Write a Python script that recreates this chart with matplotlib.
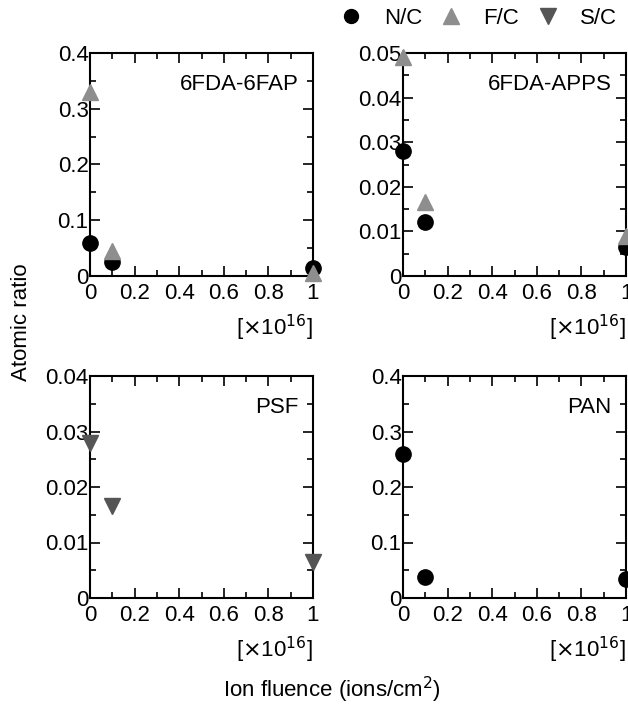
import matplotlib.pyplot as plt
from matplotlib.ticker import MultipleLocator

plt.rcParams['font.family'] = ['Liberation Sans', 'DejaVu Sans']
plt.rcParams['font.size'] = 16

# fluence in units of 1e16 ions/cm2
fluence = [0, 0.1, 1]

# 6FDA-6FAP
fap_nc = [0.06, 0.025, 0.015]
fap_fc = [0.33, 0.045, 0.005]
# 6FDA-APPS
apps_nc = [0.028, 0.012, 0.0065]
apps_fc = [0.049, 0.0165, 0.009]
# PSF
psf_sc = [0.028, 0.0165, 0.0065]
# PAN
pan_nc = [0.26, 0.037, 0.035]

c_nc = 'black'
c_fc = '#8e8e8e'
c_sc = '#555555'

W, H = 628, 705
fig = plt.figure(figsize=(W / 100, H / 100), dpi=100)

def make_ax(x0, y0, x1, y1):
    return fig.add_axes([x0 / W, 1 - y1 / H, (x1 - x0) / W, (y1 - y0) / H])

ax1 = make_ax(90, 53, 313, 276)
ax2 = make_ax(403, 53, 626, 276)
ax3 = make_ax(90, 376, 313, 598)
ax4 = make_ax(403, 376, 626, 598)

panels = [
    (ax1, '6FDA-6FAP', 0.4, 0.1, [(fap_nc, 'o', c_nc), (fap_fc, '^', c_fc)]),
    (ax2, '6FDA-APPS', 0.05, 0.01, [(apps_nc, 'o', c_nc), (apps_fc, '^', c_fc)]),
    (ax3, 'PSF', 0.04, 0.01, [(psf_sc, 'v', c_sc)]),
    (ax4, 'PAN', 0.4, 0.1, [(pan_nc, 'o', c_nc)]),
]

def xfmt(v, p):
    v = round(v, 3)
    if v == 0:
        return '0'
    if v == 1:
        return '1'
    return f'{v:.1f}'

for ax, name, ymax, ystep, series in panels:
    for vals, mk, col in series:
        ax.plot(fluence, vals, linestyle='none', marker=mk, color=col,
                markersize=11, clip_on=False, zorder=3)
    ax.set_xlim(0, 1)
    ax.set_ylim(0, ymax)
    ax.xaxis.set_major_locator(MultipleLocator(0.2))
    ax.xaxis.set_minor_locator(MultipleLocator(0.1))
    ax.yaxis.set_major_locator(MultipleLocator(ystep))
    ax.yaxis.set_minor_locator(MultipleLocator(ystep / 2))
    ax.tick_params(which='both', direction='in', top=True, right=True,
                   width=1.2, labelsize=16)
    ax.tick_params(axis='x', pad=5)
    ax.tick_params(axis='y', pad=1)
    ax.tick_params(which='major', length=7)
    ax.tick_params(which='minor', length=4)
    ax.xaxis.set_major_formatter(xfmt)
    ax.yaxis.set_major_formatter(
        lambda v, p, s=ystep: '0' if round(v, 4) == 0 else (f'{v:.2f}' if s < 0.05 else f'{v:.1f}'))
    for sp in ax.spines.values():
        sp.set_linewidth(1.5)
    ax.text(0.935, 0.857, name, transform=ax.transAxes, ha='right', va='center', fontsize=16)
    ax.text(1.0, -0.165, r'[$\times$10$^{16}$]', transform=ax.transAxes,
            ha='right', va='top', fontsize=16)

# legend row at the top
fig.legend(handles=[
    plt.Line2D([], [], linestyle='none', marker='o', color=c_nc, markersize=10, label='N/C'),
    plt.Line2D([], [], linestyle='none', marker='^', color=c_fc, markersize=11, label='F/C'),
    plt.Line2D([], [], linestyle='none', marker='v', color=c_sc, markersize=11, label='S/C'),
], loc='center right', bbox_to_anchor=(1.0, 1 - 18 / H), ncol=3, frameon=False,
    fontsize=16, handletextpad=0.95, columnspacing=0.8, handlelength=1.0, borderaxespad=0.1)

fig.text(22 / W, 1 - 322 / H, 'Atomic ratio', rotation=90, ha='center', va='center', fontsize=16)
fig.text(332 / W, 1 - 690 / H, r'Ion fluence (ions/cm$^2$)', ha='center', va='center', fontsize=16)

fig.savefig('out.png', dpi=100)
